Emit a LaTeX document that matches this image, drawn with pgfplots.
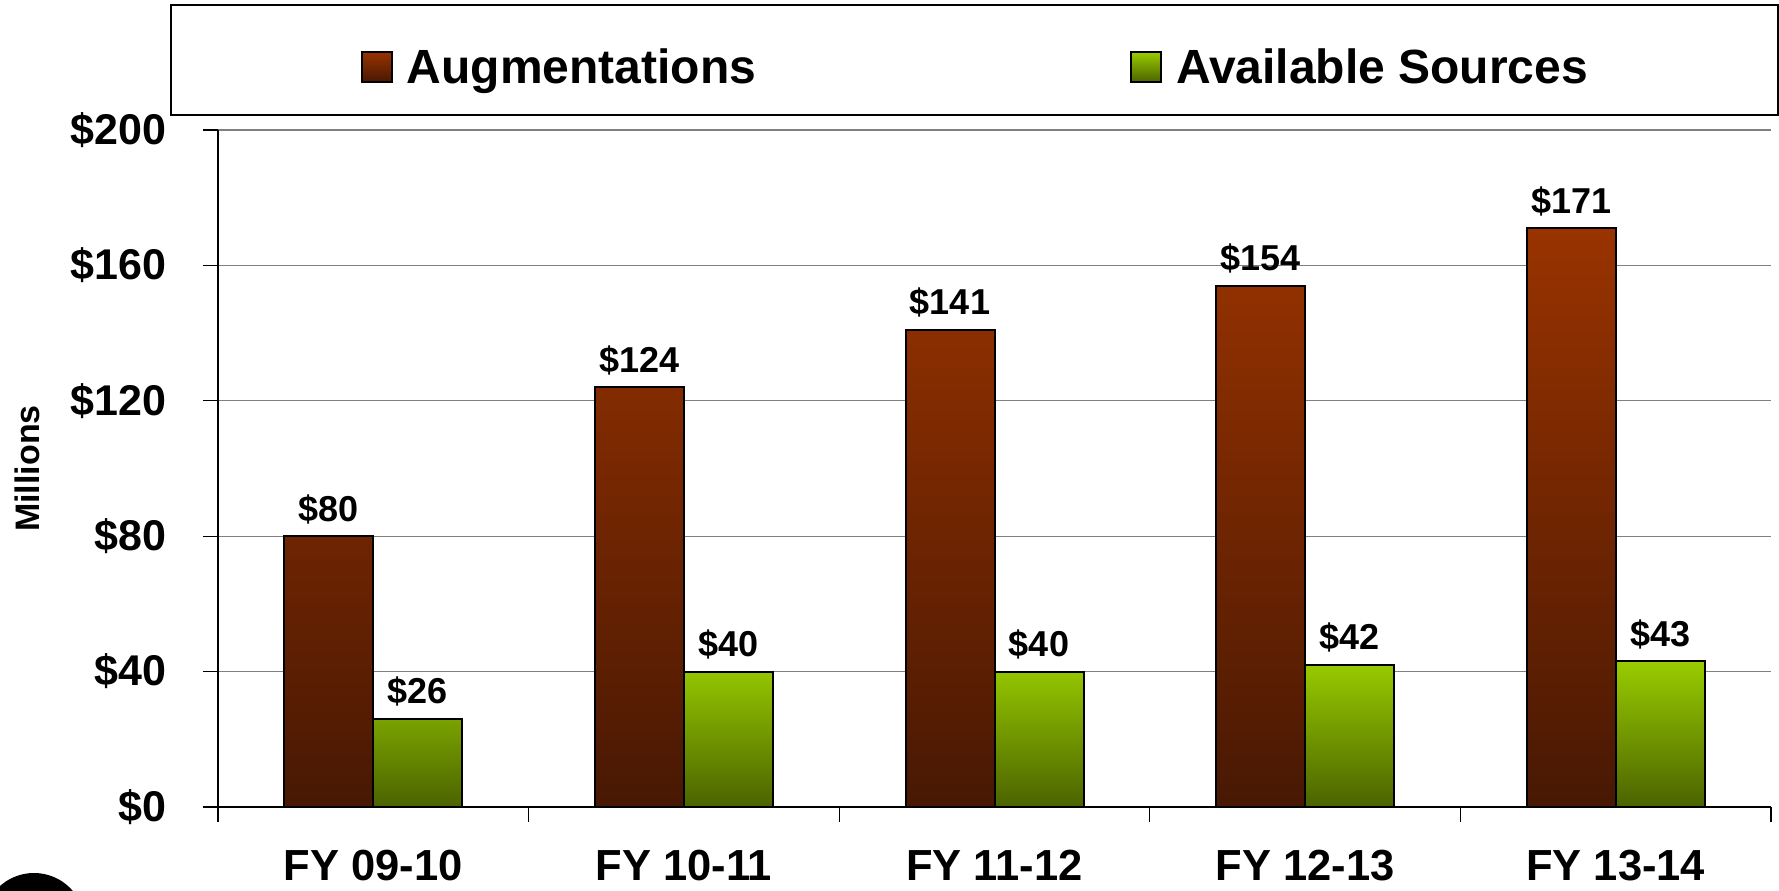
\documentclass[border=0pt]{standalone}
\usepackage{fontspec}
\setmainfont{Liberation Sans}
\usepackage{pgfplots}
\pgfplotsset{compat=1.18}

\definecolor{augtop}{RGB}{153,51,0}
\definecolor{augbot}{RGB}{72,24,3}
\definecolor{avtop}{RGB}{153,204,0}
\definecolor{avbot}{RGB}{75,99,0}

\begin{document}
\begin{tikzpicture}
% page = 1779 x 890 px at 0.5pt per px
\path[use as bounding box] (0,0) rectangle (889.5pt,445pt);
% corner of the seal that peeks in at bottom left
\fill[black] (17pt,-17pt) circle (25.5pt);
\begin{axis}[
  at={(109pt,41.5pt)}, anchor=south west,
  scale only axis, width=776.5pt, height=338.5pt,
  ybar, bar width=44.5pt,
  xmin=-0.5, xmax=4.5, ymin=0, ymax=200,
  clip=false,
  axis x line*=bottom, axis y line*=left,
  x axis line style={-, line width=1pt},
  y axis line style={-, line width=0.6pt},
  tick style={black, line width=0.6pt},
  major tick length=7.5pt, tick align=outside,
  ytick={0,40,...,200},
  yticklabel={\$\pgfmathprintnumber{\tick}},
  /pgf/number format/assume math mode=true,
  yticklabel style={anchor=east, inner sep=0pt, xshift=-18pt,
    font=\fontsize{21.5}{24}\selectfont\bfseries},
  xtick={-0.5,0.5,...,4.5},
  x tick label as interval,
  xticklabels={FY 09-10, FY 10-11, FY 11-12, FY 12-13, FY 13-14},
  xticklabel style={anchor=north, inner sep=0pt, yshift=-14pt,
    font=\fontsize{21.75}{24}\selectfont\bfseries},
  ymajorgrids, grid style={black!50, line width=0.6pt},
  ylabel={Millions},
  ylabel style={at={(axis description cs:-0.123,0.5)}, anchor=center,
    font=\fontsize{17}{20}\selectfont\bfseries},
  nodes near coords={\$\pgfmathprintnumber{\pgfplotspointmeta}},
  every node near coord/.append style={anchor=base, yshift=7.5pt,
    inner sep=0pt, text=black, font=\fontsize{18}{20}\selectfont\bfseries},
  legend columns=2,
  legend image code/.code={
    \path (0pt,0pt) (0pt,25pt);
    \draw[#1, draw=black, line width=1pt] (0pt,1pt) rectangle (15pt,16pt);},
  legend style={at={(0,1)}, anchor=south west, xshift=-24pt, yshift=7pt,
    draw=black, line width=1pt, inner xsep=95pt, inner ysep=14pt,
    font=\fontsize{24}{28}\selectfont\bfseries,
    cells={anchor=base}, nodes={inner sep=0pt},
    /tikz/every odd column/.append style={column sep=7pt},
    /tikz/every even column/.append style={column sep=187pt}},
]
\addplot[draw=black, line width=1pt, top color=augtop, bottom color=augbot,
  bar shift=-22.25pt]
  coordinates {(0,80) (1,124) (2,141) (3,154) (4,171)};
\addlegendentry{Augmentations}

\addplot[draw=black, line width=1pt, top color=avtop, bottom color=avbot,
  bar shift=22.25pt]
  coordinates {(0,26) (1,40) (2,40) (3,42) (4,43)};
\addlegendentry{Available Sources}
\end{axis}
\end{tikzpicture}
\end{document}
